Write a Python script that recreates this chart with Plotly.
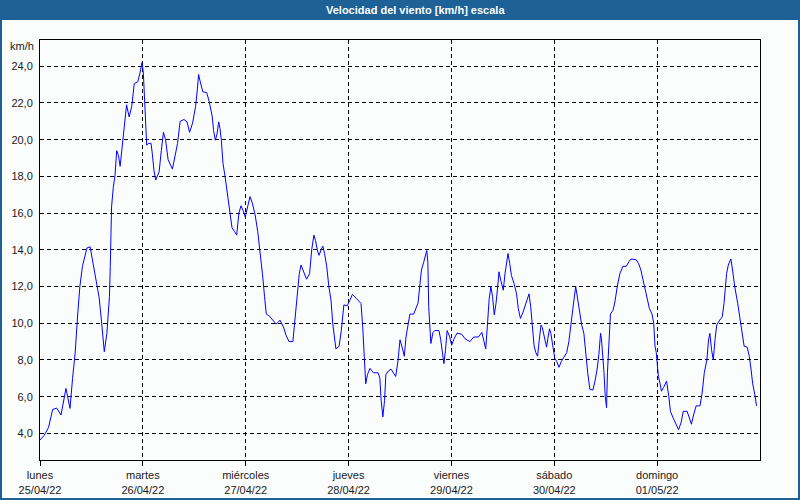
import pandas as pd
import plotly.graph_objects as go

# ---------------- data ----------------
hours = [
    0.0, 1.0, 2.0, 2.95, 3.9, 4.9, 6.06, 7.0, 7.6, 8.2, 8.8, 9.3, 9.9, 10.95, 11.7, 12.7, 13.8, 14.4, 15.0, 15.6,
    16.2, 16.4, 16.7, 17.1, 17.5, 17.9, 18.3, 18.7, 19.1, 19.5, 19.9, 20.2, 20.8, 21.4, 22.0, 22.8, 23.3, 23.8, 24.1, 24.3,
    24.7, 24.9, 25.3, 25.9, 26.2, 26.6, 27.0, 27.8, 28.3, 28.8, 29.3, 29.9, 30.9, 31.5, 32.1, 32.7, 33.6,
    34.3, 34.9, 35.6, 36.3, 36.7, 37.0, 37.4, 38.0, 38.9, 39.5, 40.2, 40.5, 40.9, 41.3, 41.7, 42.0, 42.3, 42.7, 43.2, 43.8,
    44.4, 44.8, 45.4, 45.9, 46.4, 46.9, 47.5, 47.9, 48.5, 49.0, 49.6, 50.2, 50.8, 51.4, 51.9, 52.4, 52.8, 53.5, 54.3, 55.1,
    56.0, 56.8, 57.4, 58.1, 59.0, 59.5, 60.2, 60.5, 60.9, 61.6, 62.2, 62.9, 63.4, 63.9, 64.3, 64.7, 65.1, 65.6, 66.0, 66.4,
    66.9, 67.4, 67.9,
    68.3, 68.7, 69.05, 69.8, 70.3, 70.9, 71.7, 72.3, 72.9, 73.8, 74.9, 75.3, 75.7, 76.0, 76.4, 77.0, 77.8, 78.9, 79.3, 79.6,
    80.0, 80.4, 80.7, 81.3, 81.9, 82.5, 83.0, 83.5, 84.0, 84.6, 85.0, 85.4, 85.8, 86.3, 87.2, 87.7, 88.2, 88.6, 89.0, 89.5,
    89.9, 90.25, 90.5, 90.7, 91.2, 91.7, 92.1, 93.1, 93.5, 93.85, 94.25, 94.6, 95.0, 95.6, 96.05, 96.6, 97.3, 98.4, 99.2, 100.3,
    101.2, 102.3,
    103.1, 103.6, 104.0, 104.4, 104.8, 105.2, 105.6, 106.0, 106.4, 106.8, 107.1, 107.5, 108.1, 108.5, 108.9, 109.2, 109.6, 110.0, 110.6, 111.2,
    111.6, 112.1, 112.7, 113.3, 113.7, 114.1, 114.5, 114.9, 115.3, 115.7, 116.1, 116.5, 116.9, 117.2, 117.7, 118.2, 118.5, 118.9, 119.2, 119.7,
    120.1, 120.6, 121.1, 121.6, 122.3, 122.9, 123.4, 124.0, 124.5, 125.0, 125.4, 125.9, 126.4, 126.9, 127.3, 127.8, 128.3, 129.0, 129.5, 130.0,
    130.4, 130.8, 131.0, 131.3, 131.6, 131.9, 132.2, 132.4, 132.7, 133.1, 133.7, 134.1, 134.7, 135.3, 136.0,
    136.8, 137.4, 137.9, 139.1, 139.7, 140.2, 140.8, 141.3, 141.8, 142.2, 142.8, 143.2, 143.5, 143.8, 144.0, 144.3, 144.7, 145.0, 145.5, 146.2,
    146.7, 147.1, 147.7, 148.4, 149.0, 149.6, 150.1, 151.0, 151.5, 152.0, 152.5, 153.1, 154.0, 154.5, 155.0, 155.6, 156.0, 156.3, 156.7, 157.1,
    157.5, 157.9, 158.6, 159.2, 159.6, 159.9, 160.2, 160.6, 161.2, 161.6, 162.1, 162.8, 163.3, 163.7, 164.3, 165.0, 165.5, 165.9, 166.3, 166.8,
    167.2,
]

speed_kmh = [
    3.64, 3.9, 4.33, 5.3, 5.38, 5.0, 6.45, 5.36, 7.0, 8.36, 10.5, 12.0, 13.1, 14.1, 14.16, 12.9, 11.4, 10.0, 8.45, 9.45,
    11.44, 13.1, 16.34, 17.4, 18.06, 19.4, 19.15, 18.55, 19.5, 20.3, 21.5, 21.9, 21.24, 21.8, 23.06, 23.15, 23.6, 24.2, 23.7, 22.7,
    21.5, 19.7, 19.8, 19.8, 19.25, 18.3, 17.8, 18.25, 19.4, 20.4, 20.0, 18.9, 18.4, 19.1, 19.8, 21.0, 21.1,
    20.97, 20.4, 20.9, 21.8, 22.7, 23.55, 23.15, 22.6, 22.57, 22.06, 21.24, 20.5, 19.97, 20.3, 20.97, 20.6, 20.0, 18.7, 17.97, 16.9,
    16.0, 15.2, 15.0, 14.8, 16.0, 16.4, 16.07, 15.8, 16.4, 16.9, 16.5, 15.9, 15.0, 13.8, 12.7, 11.44, 10.5, 10.4, 10.17, 9.95,
    10.17, 9.8, 9.35, 9.0, 9.0, 10.17, 11.8, 12.7, 13.17, 12.7, 12.4, 12.7, 14.0, 14.8, 14.5, 14.0, 13.7, 14.0, 14.2, 13.8,
    13.1, 12.0, 11.26,
    10.0, 9.1, 8.6, 8.75, 9.6, 11.0, 10.95, 11.26, 11.57, 11.35, 11.08, 9.8, 8.0, 6.7, 7.2, 7.54, 7.3, 7.3, 7.0, 5.8,
    4.9, 5.8, 7.2, 7.4, 7.5, 7.3, 7.1, 7.9, 9.1, 8.6, 8.2, 9.25, 9.85, 10.5, 10.5, 10.8, 11.1, 12.0, 12.9, 13.3,
    13.7, 13.96, 13.3, 10.9, 8.9, 9.5, 9.6, 9.6, 9.1, 8.4, 7.8, 8.5, 9.6, 9.26, 8.8, 9.15, 9.46, 9.4, 9.15, 9.0,
    9.25, 9.25,
    9.5, 9.0, 8.6, 9.9, 11.3, 12.0, 11.44, 10.45, 11.08, 12.0, 12.8, 12.35, 11.8, 12.7, 13.4, 13.8, 13.26, 12.6, 12.17, 11.6,
    10.8, 10.26, 10.6, 11.0, 11.35, 11.6, 10.9, 10.0, 8.75, 8.4, 8.2, 9.1, 9.9, 9.77, 9.17, 8.7, 9.17, 9.7, 9.45, 8.55,
    8.1, 7.9, 7.6, 7.9, 8.2, 8.4, 9.0, 10.0, 11.1, 12.0, 11.44, 10.7, 9.9, 9.45, 8.4, 7.3, 6.4, 6.36, 6.85, 7.5,
    8.3, 9.45, 9.17, 8.3, 7.3, 6.0, 5.4, 7.3, 8.6, 10.5, 10.7, 11.1, 12.0, 12.7, 13.1,
    13.1, 13.35, 13.5, 13.46, 13.24, 12.9, 12.26, 11.6, 11.2, 10.8, 10.5, 10.0, 8.75, 8.4, 7.85, 7.1, 6.7, 6.3, 6.5, 6.85,
    6.05, 5.2, 4.86, 4.5, 4.2, 4.6, 5.2, 5.2, 4.86, 4.5, 5.0, 5.5, 5.5, 6.2, 7.3, 8.0, 9.1, 9.45, 8.55, 8.0,
    9.1, 9.9, 10.17, 10.35, 11.08, 12.0, 12.7, 13.17, 13.5, 12.9, 12.0, 11.08, 10.3, 9.6, 8.75, 8.7, 8.2, 7.5, 6.7, 6.1,
    5.5,
]

start_date = "2022-04-25"
day_names = ["lunes", "martes", "miércoles", "jueves", "viernes", "sábado", "domingo"]
day_dates = ["25/04/22", "26/04/22", "27/04/22", "28/04/22", "29/04/22", "30/04/22", "01/05/22"]
y_ticks = [4, 6, 8, 10, 12, 14, 16, 18, 20, 22, 24]
title_text = "Velocidad del viento [km/h] escala"
unit_text = "km/h"

# ---------------- figure ----------------
W, H = 800, 500
ML, MR, MT, MB = 40, 40, 40, 40
PW, PH = W - ML - MR, H - MT - MB

def px_x(p):
    return (p - ML) / PW

def px_y(p):
    return 1 - (p - MT) / PH

base = pd.Timestamp(start_date)
times = [base + pd.Timedelta(hours=h) for h in hours]
tickvals = [base + pd.Timedelta(days=i) for i in range(len(day_names))]
ticktext = [f"{n}<br>{d}" for n, d in zip(day_names, day_dates)]

BG = "#fbfdfd"
BAR = "#1d6196"
FONT = "Liberation Sans, Arial, sans-serif"

fig = go.Figure(
    go.Scatter(
        x=times, y=speed_kmh, mode="lines",
        line=dict(color="#0000ff", width=1),
        hoverinfo="skip",
    )
)

fig.update_layout(
    template="none",
    width=W, height=H,
    margin=dict(l=ML, r=MR, t=MT, b=MB, pad=0),
    paper_bgcolor=BG, plot_bgcolor=BG,
    showlegend=False,
    separators=",.",
    font=dict(family=FONT, size=11, color="#1a1a1a"),
)

fig.update_xaxes(
    range=[base, base + pd.Timedelta(days=7)],
    automargin=False,
    tickmode="array", tickvals=tickvals, ticktext=ticktext,
    showgrid=True, gridcolor="black", gridwidth=1, griddash="4px,3px",
    showline=True, linecolor="black", linewidth=1, mirror=True,
    ticks="outside", ticklen=5, tickcolor="black", tickwidth=1,
    zeroline=False,
    tickfont=dict(family=FONT, size=11, color="#1a1a1a"),
)

fig.update_yaxes(
    range=[2.55, 25.43],
    automargin=False,
    tickmode="array", tickvals=y_ticks, tickformat=".1f",
    showgrid=True, gridcolor="black", gridwidth=1, griddash="4px,3px",
    showline=True, linecolor="black", linewidth=1, mirror=True,
    ticks="outside", ticklen=4, tickcolor=BG,
    zeroline=False,
    tickfont=dict(family=FONT, size=11, color="#1a1a1a"),
)

# title bar
fig.add_shape(
    type="rect", xref="paper", yref="paper",
    x0=px_x(0), x1=px_x(W), y0=px_y(20), y1=px_y(0),
    fillcolor=BAR, line=dict(width=0), layer="below",
)
# outer frame
fig.add_shape(
    type="rect", xref="paper", yref="paper",
    x0=px_x(1), x1=px_x(W - 1), y0=px_y(H - 1), y1=px_y(1),
    fillcolor="rgba(0,0,0,0)", line=dict(color=BAR, width=2),
)
fig.add_annotation(
    text=f"<b>{title_text}</b>", xref="paper", yref="paper",
    x=px_x(415), y=px_y(10), xanchor="center", yanchor="middle",
    showarrow=False, font=dict(family=FONT, size=11, color="white"),
)
fig.add_annotation(
    text=unit_text, xref="paper", yref="paper",
    x=px_x(36), y=px_y(46), xanchor="right", yanchor="middle",
    showarrow=False, font=dict(family=FONT, size=11, color="#1a1a1a"),
)

fig.write_html(
    "out.html",
    config={"displayModeBar": False, "staticPlot": True},
    post_script="document.body.style.margin='0';document.body.style.overflow='hidden';",
)
